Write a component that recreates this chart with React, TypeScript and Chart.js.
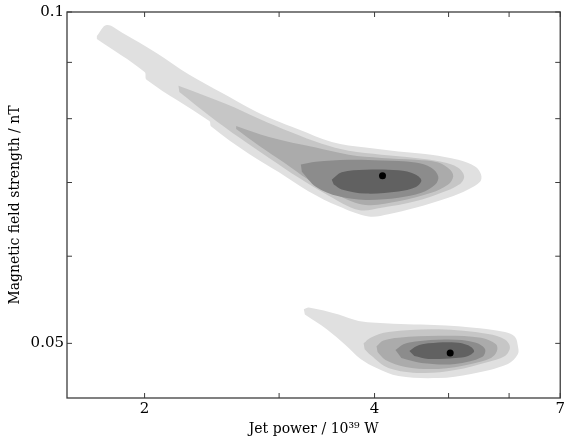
import { useEffect, useRef } from 'react';
import { Chart, registerables } from 'chart.js';

Chart.register(...registerables);

type P = [number, number];

// Credible-region contours (jet power [1e39 W], magnetic field [nT]), outermost to innermost
const upperLevel1: P[] = [
  [1.732, 0.0951], [1.784, 0.0973], [1.872, 0.0957], [2.073, 0.0918], [2.289, 0.0877],
  [2.527, 0.0844], [2.741, 0.0818], [2.954, 0.0798], [3.184, 0.0782], [3.516, 0.0762],
  [3.893, 0.0753], [4.299, 0.0747], [4.746, 0.0742], [5.146, 0.0734], [5.416, 0.0724],
  [5.514, 0.0712], [5.498, 0.0701], [5.303, 0.069], [4.994, 0.0678], [4.524, 0.0664],
  [4.171, 0.0655], [3.929, 0.0652], [3.59, 0.0666], [3.281, 0.0687], [2.999, 0.0715],
  [2.741, 0.0743], [2.445, 0.0787], [2.431, 0.0796], [2.012, 0.0868], [2.0, 0.0882],
  [1.732, 0.0945],
];
const upperLevel2: P[] = [
  [2.215, 0.0857], [2.558, 0.0825], [2.824, 0.08], [3.118, 0.0777], [3.412, 0.0759],
  [3.7, 0.0748], [4.085, 0.0742], [4.524, 0.0737], [4.891, 0.0731], [5.146, 0.0722],
  [5.24, 0.0709], [5.162, 0.0697], [4.891, 0.0685], [4.524, 0.0673], [4.085, 0.0664],
  [3.812, 0.0661], [3.484, 0.0681], [3.184, 0.0707], [2.91, 0.0737], [2.66, 0.0769],
  [2.431, 0.0805], [2.221, 0.0846],
];
const upperLevel3: P[] = [
  [2.636, 0.0788], [2.91, 0.077], [3.351, 0.0753], [3.7, 0.0742], [4.085, 0.0737],
  [4.524, 0.0734], [4.847, 0.073], [5.024, 0.0719], [5.07, 0.0709], [4.994, 0.0697],
  [4.746, 0.0685], [4.299, 0.0673], [3.893, 0.0668], [3.59, 0.0681], [3.281, 0.0704],
  [3.044, 0.073], [2.824, 0.0756], [2.636, 0.0783],
];
const upperLevel4: P[] = [
  [3.203, 0.0727], [3.351, 0.0731], [3.7, 0.0734], [4.085, 0.0733], [4.524, 0.073],
  [4.746, 0.0722], [4.847, 0.0709], [4.803, 0.0697], [4.606, 0.0685], [4.299, 0.0678],
  [3.893, 0.0675], [3.59, 0.068], [3.351, 0.0694], [3.213, 0.0716],
];
const upperLevel5: P[] = [
  [3.516, 0.0704], [3.623, 0.0715], [3.893, 0.0719], [4.299, 0.0718], [4.524, 0.0712],
  [4.606, 0.0703], [4.524, 0.0693], [4.299, 0.0687], [3.893, 0.0684], [3.623, 0.069],
  [3.537, 0.0697],
];

const lowerLevel1: P[] = [
  [3.232, 0.0537], [3.281, 0.0539], [3.59, 0.0531], [3.812, 0.0524], [4.235, 0.0521],
  [4.606, 0.052], [5.351, 0.0517], [5.926, 0.0512], [6.106, 0.0507], [6.162, 0.0497],
  [6.162, 0.0489], [5.98, 0.0479], [5.351, 0.0469], [4.847, 0.0465], [4.299, 0.0467],
  [4.024, 0.0475], [3.835, 0.0484], [3.667, 0.0498], [3.463, 0.0515], [3.242, 0.0531],
];
const lowerLevel2: P[] = [
  [3.87, 0.05], [3.952, 0.0506], [4.171, 0.0512], [4.847, 0.0515], [5.631, 0.051],
  [5.926, 0.0504], [6.015, 0.0496], [5.926, 0.0487], [5.631, 0.0481], [5.1, 0.0473],
  [4.606, 0.047], [4.171, 0.0475], [3.952, 0.0488], [3.882, 0.0494],
];
const lowerLevel3: P[] = [
  [4.024, 0.0497], [4.109, 0.0503], [4.299, 0.0506], [4.847, 0.0508], [5.514, 0.0506],
  [5.768, 0.0499], [5.785, 0.0492], [5.682, 0.0485], [5.351, 0.0479], [4.847, 0.0474],
  [4.39, 0.0476], [4.134, 0.0483], [4.036, 0.0491],
];
const lowerLevel4: P[] = [
  [4.26, 0.0493], [4.364, 0.0499], [4.524, 0.0502], [4.994, 0.0504], [5.416, 0.0501],
  [5.581, 0.0494], [5.531, 0.0486], [5.1, 0.0479], [4.606, 0.048], [4.337, 0.0485],
];
const lowerLevel5: P[] = [
  [4.443, 0.0492], [4.537, 0.0497], [4.703, 0.05], [5.1, 0.0501], [5.303, 0.0498],
  [5.4, 0.0492], [5.303, 0.0487], [5.1, 0.0485], [4.703, 0.0484], [4.51, 0.0487],
];

const bestFitPoints: P[] = [[4.097, 0.071], [5.024, 0.049]];

const upperLevels = [upperLevel1, upperLevel2, upperLevel3, upperLevel4, upperLevel5];
const lowerLevels = [lowerLevel1, lowerLevel2, lowerLevel3, lowerLevel4, lowerLevel5];
const levelColors = ['#e0e0e0', '#c6c6c6', '#ababab', '#8c8c8c', '#616161'];

const xTickValues = [2, 3, 4, 5, 6, 7];
const xTickLabels = ['2', '', '4', '', '', '7'];
const yTickValues = [0.05, 0.06, 0.07, 0.08, 0.09, 0.1];
const yTickLabels = ['0.05', '', '', '', '', '0.1'];
const xRange = [1.583, 7];
const yRange = [0.0446, 0.1];

const FONT = "'DejaVu Serif', serif";

const framePlugin = {
  id: 'frame',
  afterDatasetsDraw(chart: any) {
    const { ctx, chartArea: a, scales } = chart;
    ctx.save();
    ctx.strokeStyle = '#3c3c3c';
    ctx.lineWidth = 1.3;
    ctx.strokeRect(a.left, a.top, a.right - a.left, a.bottom - a.top);
    const len = 5;
    ctx.lineWidth = 1;
    ctx.beginPath();
    xTickValues.forEach((v) => {
      const px = scales.x.getPixelForValue(v);
      ctx.moveTo(px, a.bottom);
      ctx.lineTo(px, a.bottom - len);
      ctx.moveTo(px, a.top);
      ctx.lineTo(px, a.top + len);
    });
    yTickValues.forEach((v) => {
      const py = scales.y.getPixelForValue(v);
      ctx.moveTo(a.left, py);
      ctx.lineTo(a.left + len, py);
      ctx.moveTo(a.right, py);
      ctx.lineTo(a.right - len, py);
    });
    ctx.stroke();
    ctx.restore();
  },
};

export default function App() {
  const ref = useRef<HTMLCanvasElement>(null);

  useEffect(() => {
    if (!ref.current) return;
    const toXY = (pts: P[]) => pts.map(([x, y]) => ({ x, y }));
    const datasets: any[] = [];
    [upperLevels, lowerLevels].forEach((levels) => {
      levels.forEach((poly, i) => {
        datasets.push({
          data: toXY(poly),
          showLine: true,
          fill: 'shape',
          backgroundColor: levelColors[i],
          borderColor: levelColors[i],
          borderWidth: 0,
          pointRadius: 0,
          tension: 0.35,
          order: 10 - i,
        });
      });
    });
    datasets.push({
      data: toXY(bestFitPoints),
      showLine: false,
      pointRadius: 3.5,
      pointBackgroundColor: '#000',
      pointBorderWidth: 0,
      backgroundColor: '#000',
      order: 0,
    });

    const chart = new Chart(ref.current, {
      type: 'scatter',
      data: { datasets },
      plugins: [framePlugin],
      options: {
        responsive: false,
        animation: false,
        events: [],
        font: { family: FONT },
        layout: { padding: { top: 12, right: 5, left: 0, bottom: 0 } },
        plugins: { legend: { display: false }, tooltip: { enabled: false } },
        scales: {
          x: {
            type: 'logarithmic',
            min: xRange[0],
            max: xRange[1],
            grid: { display: false, drawTicks: false },
            border: { display: false },
            afterBuildTicks: (s: any) => {
              s.ticks = xTickValues.map((v) => ({ value: v }));
            },
            afterFit: (s: any) => {
              s.height = 43;
            },
            ticks: {
              autoSkip: false,
              maxRotation: 0,
              padding: 2,
              color: '#000',
              font: { family: FONT, size: 15 },
              callback: (v: any) => xTickLabels[xTickValues.indexOf(Number(v))] ?? '',
            },
            title: {
              display: true,
              text: 'Jet power / 10³⁹ W',
              color: '#000',
              font: { family: FONT, size: 14 },
              padding: { top: 0, bottom: 3 },
            },
          },
          y: {
            type: 'logarithmic',
            min: yRange[0],
            max: yRange[1],
            grid: { display: false, drawTicks: false },
            border: { display: false },
            afterBuildTicks: (s: any) => {
              s.ticks = yTickValues.map((v) => ({ value: v }));
            },
            afterFit: (s: any) => {
              s.width = 67;
            },
            ticks: {
              autoSkip: false,
              padding: 3,
              color: '#000',
              font: { family: FONT, size: 15 },
              callback: (v: any) => yTickLabels[yTickValues.indexOf(Number(v))] ?? '',
            },
            title: {
              display: true,
              text: 'Magnetic field strength / nT',
              color: '#000',
              font: { family: FONT, size: 14 },
              padding: { top: 7, bottom: 0 },
            },
          },
        },
      } as any,
    });
    return () => chart.destroy();
  }, []);

  return (
    <div style={{ position: 'absolute', left: 0, top: 0, width: 567, height: 441, background: '#fff' }}>
      <canvas ref={ref} width={567} height={441} style={{ display: 'block' }} />
    </div>
  );
}
